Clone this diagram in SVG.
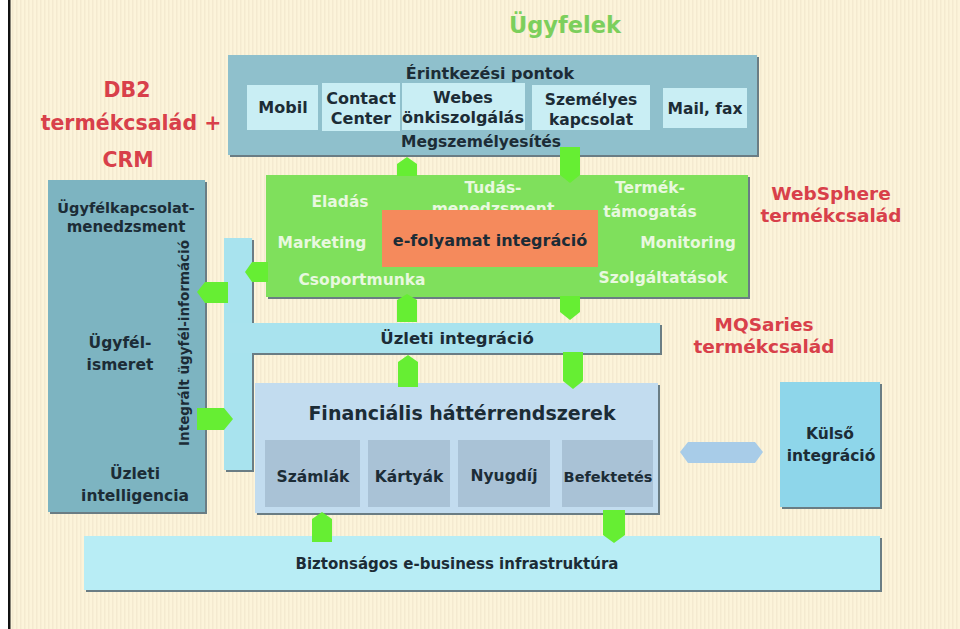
<svg xmlns="http://www.w3.org/2000/svg" width="960" height="629" viewBox="0 0 960 629">
<defs>
<pattern id="bgp" width="4" height="4" patternUnits="userSpaceOnUse">
<rect width="4" height="4" fill="#fcf4da"/>
<rect x="0" width="1.5" height="4" fill="#f4ead0"/>
</pattern>
<style>
text{font-family:"DejaVu Sans","Liberation Sans",sans-serif;font-weight:bold;text-anchor:middle}
.dk{fill:#1c2c36}
.red{fill:#d8404a;font-size:18.5px}
.wt{fill:#e8f8df;font-size:15.5px}
.sh{fill:#6a7d84}
.arr{fill:#66ee33}
</style>
</defs>
<rect width="960" height="629" fill="url(#bgp)"/>
<rect x="0" y="0" width="8" height="629" fill="#ffffff"/>
<rect x="8" y="0" width="2.5" height="629" fill="#111111"/>

<!-- labels -->
<text x="565" y="33" style="font-size:22.5px;fill:#7ccf5c">Ügyfelek</text>
<g id="db2label">
<text class="red" x="127" y="97" style="font-size:20.5px">DB2</text>
<text class="red" x="131" y="130" style="font-size:20.5px">termékcsalád +</text>
<text class="red" x="128" y="167" style="font-size:20.5px">CRM</text>
</g>
<g id="webspherelabel">
<text class="red" x="831" y="200">WebSphere</text>
<text class="red" x="831" y="222">termékcsalád</text>
</g>
<g id="mqlabel">
<text class="red" x="764" y="331">MQSaries</text>
<text class="red" x="764" y="353">termékcsalád</text>
</g>

<!-- top box -->
<g id="erintkezes">
<rect x="230" y="57" width="529" height="100" class="sh"/>
<rect x="228" y="55" width="529" height="100" fill="#8fc0cc"/>
<text class="dk" x="490" y="79" style="font-size:16px">Érintkezési pontok</text>
<text class="dk" x="481" y="147" style="font-size:15.5px">Megszemélyesítés</text>
</g>
<g id="mobil">
<rect x="247" y="85" width="71" height="45" fill="#c9eef4"/>
<text class="dk" x="283" y="113" style="font-size:16px">Mobil</text>
</g>
<g id="contact">
<rect x="322" y="83" width="78" height="48" fill="#c9eef4"/>
<text class="dk" x="361" y="104" style="font-size:16px">Contact</text>
<text class="dk" x="361" y="124" style="font-size:16px">Center</text>
</g>
<g id="webes">
<rect x="402" y="83" width="123" height="47" fill="#c9eef4"/>
<text class="dk" x="463" y="103" style="font-size:16px">Webes</text>
<text class="dk" x="463" y="123" style="font-size:16px">önkiszolgálás</text>
</g>
<g id="szemelyes">
<rect x="532" y="85" width="118" height="45" fill="#c9eef4"/>
<text class="dk" x="591" y="105" style="font-size:15.5px">Személyes</text>
<text class="dk" x="591" y="125" style="font-size:15.5px">kapcsolat</text>
</g>
<g id="mailfax">
<rect x="663" y="88" width="84" height="40" fill="#c9eef4"/>
<text class="dk" x="705" y="114" style="font-size:15.5px">Mail, fax</text>
</g>

<!-- websphere green box -->
<g id="websphere">
<rect x="268" y="177" width="482" height="122" class="sh"/>
<rect x="266" y="175" width="482" height="122" fill="#7fe05c"/>
<text class="wt" x="340" y="207">Eladás</text>
<text class="wt" x="493" y="193">Tudás-</text>
<text class="wt" x="493" y="214">menedzsment</text>
<text class="wt" x="650" y="193">Termék-</text>
<text class="wt" x="650" y="217">támogatás</text>
<text class="wt" x="322" y="248">Marketing</text>
<text class="wt" x="688" y="248">Monitoring</text>
<text class="wt" x="362" y="285">Csoportmunka</text>
<text class="wt" x="663" y="283">Szolgáltatások</text>
</g>
<g id="efolyamat">
<rect x="382" y="210" width="216" height="57" fill="#f58a5c"/>
<text class="dk" x="490" y="246" style="font-size:16px">e-folyamat integráció</text>
</g>

<!-- left CRM box -->
<g id="crm">
<rect x="50" y="182" width="157" height="332" class="sh"/>
<rect x="48" y="180" width="157" height="332" fill="#7db4c1"/>
<text class="dk" x="126" y="213" style="font-size:14.5px">Ügyfélkapcsolat-</text>
<text class="dk" x="126" y="232" style="font-size:15px">menedzsment</text>
<text class="dk" x="120" y="348" style="font-size:15.5px">Ügyfél-</text>
<text class="dk" x="120" y="370" style="font-size:15.5px">ismeret</text>
<text class="dk" x="135" y="479" style="font-size:15.5px">Üzleti</text>
<text class="dk" x="135" y="501" style="font-size:15.5px">intelligencia</text>
<text class="dk" transform="translate(189,343) rotate(-90)" style="font-size:13.5px">Integrált ügyfél-információ</text>
</g>

<!-- uzleti integracio bus -->
<g id="uzleti">
<rect x="226" y="240" width="28" height="232" class="sh"/>
<rect x="254" y="325" width="408" height="30" class="sh"/>
<rect x="224" y="238" width="28" height="232" fill="#a8e3ee"/>
<rect x="224" y="323" width="436" height="30" fill="#a9e3ee"/>
<text class="dk" x="457" y="344" style="font-size:16.5px">Üzleti integráció</text>
</g>

<!-- financial -->
<g id="financial">
<rect x="257" y="385" width="403" height="130" class="sh"/>
<rect x="255" y="383" width="403" height="130" fill="#c2dcef"/>
<text class="dk" x="462" y="420" style="font-size:19px">Financiális háttérrendszerek</text>
</g>
<g id="szamlak">
<rect x="265" y="440" width="95" height="67" fill="#a9c2d6"/>
<text class="dk" x="313" y="482" style="font-size:15.5px">Számlák</text>
</g>
<g id="kartyak">
<rect x="368" y="440" width="82" height="67" fill="#a9c2d6"/>
<text class="dk" x="409" y="482" style="font-size:15.5px">Kártyák</text>
</g>
<g id="nyugdij">
<rect x="458" y="440" width="92" height="67" fill="#a9c2d6"/>
<text class="dk" x="504" y="481" style="font-size:15.5px">Nyugdíj</text>
</g>
<g id="befektetes">
<rect x="562" y="440" width="91" height="67" fill="#a9c2d6"/>
<text class="dk" x="608" y="482" style="font-size:14.5px">Befektetés</text>
</g>

<!-- kulso -->
<g id="kulso">
<rect x="782" y="384" width="100" height="125" class="sh"/>
<rect x="780" y="382" width="100" height="125" fill="#8ed6ea"/>
<text class="dk" x="830" y="439" style="font-size:15.5px">Külső</text>
<text class="dk" x="831" y="461" style="font-size:15.5px">integráció</text>
</g>

<!-- infrastructure -->
<g id="infra">
<rect x="86" y="538" width="796" height="54" class="sh"/>
<rect x="84" y="536" width="796" height="54" fill="#b8edf5"/>
<text class="dk" x="457" y="569" style="font-size:15px">Biztonságos e-business infrastruktúra</text>
</g>

<!-- connectors -->
<g id="connectors">
<polygon class="arr" points="397,176 397,164 407,157 417,164 417,176"/>
<polygon class="arr" points="560,147 580,147 580,175 570,183 560,175"/>
<polygon class="arr" points="397,322 397,300 407,294 417,300 417,322"/>
<polygon class="arr" points="560,296 580,296 580,312 570,320 560,312"/>
<polygon class="arr" points="398,387 398,362 408,355 418,362 418,387"/>
<polygon class="arr" points="563,352 583,352 583,381 573,389 563,381"/>
<polygon class="arr" points="312,542 312,519 322,512 332,519 332,542"/>
<polygon class="arr" points="603,510 625,510 625,535 614,543 603,535"/>
<polygon class="arr" points="268,262 268,282 252,282 245,272 252,262"/>
<polygon class="arr" points="228,282 228,303 205,303 197,292 205,282"/>
<polygon class="arr" points="197,408 224,408 233,419 224,430 197,430"/>
<polygon points="680,452 688,442 755,442 763,452 755,463 688,463" fill="#a8cce8"/>
</g>
</svg>
